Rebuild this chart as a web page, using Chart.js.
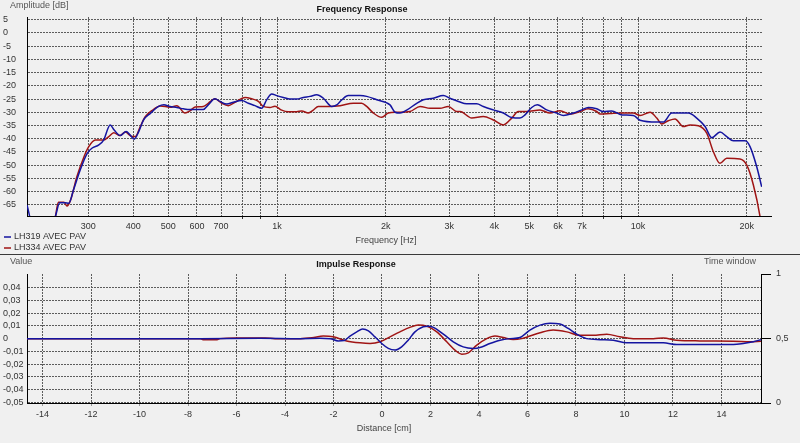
<!DOCTYPE html>
<html>
<head>
<meta charset="utf-8">
<script src="https://cdn.jsdelivr.net/npm/chart.js@4.4.0/dist/chart.umd.min.js"></script>
<style>
  body { margin: 0; background: #f0f0f0; width: 800px; height: 443px; overflow: hidden; position: relative; }
  canvas { position: absolute; left: 0; }
  #freqChart { top: 0; }
  #impChart { top: 255px; }
  #sep { position: absolute; left: 0; top: 254px; width: 800px; height: 1px; background: #3a3a3a; }
</style>
</head>
<body>
<canvas id="freqChart" width="800" height="254"></canvas>
<div id="sep"></div>
<canvas id="impChart" width="800" height="188"></canvas>
<script>
// series names
const series = ['LH319 AVEC PAV', 'LH334 AVEC PAV'];

// frequency response, LH319 (Hz / dB)
const lh319Freq = [203, 210, 235, 243, 250, 259, 265, 273, 285, 298, 307, 321, 331, 345, 354, 368, 382, 392, 402, 414, 427, 446, 470, 486, 505, 528, 550, 574, 599, 625, 645, 673, 695, 726, 757, 799, 833, 869, 907, 936, 967, 998, 1041, 1086, 1134, 1183, 1234, 1288, 1344, 1418, 1464, 1511, 1576, 1698, 1772, 1889, 2056, 2123, 2191, 2287, 2438, 2543, 2710, 2888, 3015, 3179, 3354, 3574, 3728, 3974, 4236, 4469, 4711, 4864, 5076, 5261, 5585, 5953, 6210, 6619, 6982, 7283, 7684, 8015, 8455, 9013, 9705, 10130, 11270, 11750, 12400, 13790, 14540, 15340, 16010, 16870, 17610, 18370, 19790, 20430, 21320, 22010];
const lh319Db = [-65, -72, -72, -69.5, -64.2, -64.2, -64.4, -59.4, -51.8, -45.5, -43.6, -42.3, -40.5, -34.8, -36.7, -38.8, -37.3, -38.6, -40.2, -37.3, -32.9, -30.4, -27.8, -27.2, -27.8, -28.2, -28.7, -29, -29, -29, -27.2, -24.9, -25.9, -26.9, -26.2, -25.6, -26.6, -27.5, -28.5, -25.3, -23.1, -23.7, -24.4, -25, -25, -24.4, -24, -23.4, -24.7, -27.8, -27.2, -25.3, -23.7, -23.7, -24, -25.3, -27.2, -30, -30.3, -29.2, -26.6, -25.3, -24.7, -23.7, -24.7, -25.9, -26.8, -26.8, -27.8, -29.1, -30.3, -32, -32.2, -31, -28.2, -27.2, -29.1, -30.3, -31.2, -30.3, -29.1, -28.2, -28.7, -29.7, -29.5, -31, -31.2, -33, -33.7, -33.7, -30.3, -30.3, -32.2, -35.4, -39.6, -37.5, -39.2, -40.8, -40.8, -43, -50.6, -58.2];

// frequency response, LH334
const lh334Freq = [243, 248, 257, 262, 268, 279, 292, 301, 314, 331, 342, 353, 367, 380, 397, 405, 418, 432, 450, 475, 506, 528, 556, 574, 593, 625, 645, 673, 703, 733, 765, 816, 851, 888, 916, 956, 987, 1030, 1075, 1134, 1171, 1221, 1260, 1301, 1402, 1495, 1627, 1716, 1772, 1849, 1950, 2034, 2146, 2335, 2490, 2654, 2828, 2982, 3147, 3214, 3462, 3728, 3974, 4236, 4469, 4660, 4917, 5352, 5705, 6080, 6480, 6907, 7283, 7684, 7849, 8366, 8917, 9705, 10130, 10800, 11270, 11630, 12130, 12660, 13350, 13930, 14690, 15500, 16170, 16870, 17610, 19160, 20010, 20870, 21780, 22050];
const lh334Db = [-70, -64, -64, -65.4, -63.2, -54.4, -46.8, -43, -40.5, -40.5, -39.2, -37.7, -38.8, -37.5, -39.2, -39.2, -35.4, -31.6, -29.4, -27.6, -28.1, -27.5, -30.3, -29.5, -28, -27.8, -26.6, -24.9, -26.6, -27.5, -26.2, -24.4, -24.9, -25.9, -27.8, -28.2, -27.7, -29.2, -29.8, -29.8, -29.5, -30.3, -29.2, -27.8, -27.8, -27.5, -26.6, -26.6, -27.8, -30.3, -31.9, -30.3, -30, -29.7, -27.8, -28.5, -28.5, -27.8, -29.7, -29.7, -32.2, -31.6, -32.9, -34.8, -32.2, -29.7, -29.7, -29.1, -30.3, -29.4, -30.7, -29.7, -28.7, -29.7, -30.7, -30.5, -30.3, -30.3, -31.2, -30, -32.2, -34.4, -33.2, -32.5, -35.4, -34.8, -35.1, -37.9, -44.9, -49.3, -47.4, -47.7, -50, -57.5, -69.5, -75];

// impulse response (cm / value)
const lh319Cm = [-14.64, -7.5, -5.03, -3.38, -2.56, -2.14, -1.81, -1.57, -1.32, -1.04, -0.8, -0.56, -0.29, -0.01, 0.26, 0.54, 0.81, 1.08, 1.36, 1.7, 1.91, 2.12, 2.53, 2.94, 3.35, 3.76, 4.11, 4.45, 4.87, 5.28, 5.69, 6.1, 6.52, 6.93, 7.34, 7.68, 8.03, 8.44, 8.99, 9.54, 10.09, 10.92, 11.6, 12.15, 13.11, 14.49, 14.9, 15.31, 15.63];
const lh319Val = [0, 0, 0.0003, 0, 0.0002, 0, -0.0018, -0.0015, 0.002, 0.0053, 0.0075, 0.0061, 0.0014, -0.0038, -0.0077, -0.009, -0.0065, -0.0012, 0.0053, 0.0093, 0.0098, 0.0088, 0.0035, -0.0025, -0.0065, -0.0077, -0.0065, -0.0038, -0.0012, 0, 0.0009, 0.0067, 0.0106, 0.012, 0.0114, 0.008, 0.0035, 0, -0.0008, -0.0012, -0.0033, -0.0033, -0.0033, -0.0046, -0.0046, -0.0046, -0.0038, -0.0025, -0.0008];
const lh334Cm = [-14.64, -7.5, -7.38, -6.8, -6.68, -5.98, -4.82, -4.41, -3.38, -2.89, -2.42, -2.01, -1.46, -0.91, -0.49, -0.08, 0.33, 0.74, 1.15, 1.5, 1.84, 2.26, 2.67, 3.01, 3.29, 3.56, 3.91, 4.32, 4.66, 5.0, 5.41, 5.76, 6.1, 6.52, 7.06, 7.62, 8.16, 8.71, 9.27, 9.81, 10.36, 11.19, 11.6, 12.15, 13.11, 14.49, 15.18, 15.63];
const lh334Val = [0, 0, -0.0008, -0.0008, 0, 0.0005, 0.0005, 0, 0, 0.0006, 0.002, 0.0014, -0.0018, -0.0033, -0.0038, -0.0025, 0.0014, 0.0053, 0.0088, 0.0106, 0.0098, 0.0053, -0.0025, -0.009, -0.0122, -0.0112, -0.0051, 0, 0.002, 0.0009, -0.0007, 0, 0.002, 0.0046, 0.0067, 0.0053, 0.0026, 0.0026, 0.0035, 0.0014, 0, 0, 0.0004, -0.0012, -0.0018, -0.002, -0.0025, -0.002];

// ticks
const freqTicks = [300, 400, 500, 600, 700, 800, 900, 1000, 2000, 3000, 4000, 5000, 6000, 7000, 8000, 9000, 10000, 20000];
const freqTickLabels = ['300', '400', '500', '600', '700', '', '', '1k', '2k', '3k', '4k', '5k', '6k', '7k', '', '', '10k', '20k'];
const dbTicks = [5, 0, -5, -10, -15, -20, -25, -30, -35, -40, -45, -50, -55, -60, -65];
const distTicks = [-14, -12, -10, -8, -6, -4, -2, 0, 2, 4, 6, 8, 10, 12, 14];
const valueTicks = [-0.05, -0.04, -0.03, -0.02, -0.01, 0, 0.01, 0.02, 0.03, 0.04];
const valueTickLabels = ['-0,05', '-0,04', '-0,03', '-0,02', '-0,01', '0', '0,01', '0,02', '0,03', '0,04'];
const windowTicks = [0, 0.5, 1];
const windowTickLabels = ['0', '0,5', '1'];

const family = "'Liberation Sans', Arial, sans-serif";
const blue = '#1414a0';
const red = '#a01414';
const gridColor = '#5c5c5c';

function pts(xs, ys) {
    return xs.map((x, i) => ({ x: x, y: ys[i] }));
}

// texts, legend and the axis stub drawn after the chart
function textPlugin(items, legend, axisEnd) {
    return {
        id: 'texts',
        afterDraw(chart) {
            const ctx = chart.ctx;
            const area = chart.chartArea;
            ctx.save();
            if (axisEnd) {
                ctx.strokeStyle = '#000';
                ctx.lineWidth = 1;
                ctx.beginPath();
                ctx.moveTo(area.right, Math.round(area.bottom) + 0.5);
                ctx.lineTo(axisEnd, Math.round(area.bottom) + 0.5);
                ctx.stroke();
            }
            items.forEach(t => {
                ctx.font = (t.bold ? 'bold ' : '') + '9px ' + family;
                ctx.fillStyle = t.color || '#333';
                ctx.textAlign = t.align || 'left';
                ctx.textBaseline = 'middle';
                ctx.fillText(t.text, t.x, t.y);
            });
            if (legend) {
                chart.data.datasets.forEach((ds, i) => {
                    const y = 237 + i * 11;
                    ctx.strokeStyle = ds.borderColor;
                    ctx.lineWidth = 1.5;
                    ctx.beginPath();
                    ctx.moveTo(4, y);
                    ctx.lineTo(11, y);
                    ctx.stroke();
                    ctx.font = '9px ' + family;
                    ctx.fillStyle = '#333';
                    ctx.textAlign = 'left';
                    ctx.fillText(ds.label, 14, y);
                });
            }
            ctx.restore();
        }
    };
}

const tickFont = { size: 9, family: family };

new Chart(document.getElementById('freqChart'), {
    type: 'line',
    data: {
        datasets: [
            { label: series[0], data: pts(lh319Freq, lh319Db), borderColor: blue },
            { label: series[1], data: pts(lh334Freq, lh334Db), borderColor: red }
        ]
    },
    options: {
        responsive: false,
        animation: false,
        devicePixelRatio: 1,
        layout: { padding: { left: 3, right: 38, top: 17, bottom: 0 } },
        plugins: { legend: { display: false }, tooltip: { enabled: false } },
        elements: { point: { radius: 0 }, line: { borderWidth: 1.5, cubicInterpolationMode: 'monotone' } },
        scales: {
            x: {
                type: 'logarithmic',
                min: 203,
                max: 22050,
                afterBuildTicks: s => { s.ticks = freqTicks.map(v => ({ value: v })); },
                afterFit: s => { s.height = 38; },
                ticks: { autoSkip: false, maxRotation: 0, padding: 2, color: '#333', font: tickFont,
                    callback: (v, i) => freqTickLabels[i] },
                grid: { color: gridColor, tickLength: 3,
                    tickColor: c => freqTickLabels[c.index] ? 'rgba(0,0,0,0)' : '#333' },
                border: { color: '#000', dash: [2, 1] }
            },
            y: {
                min: -69.2,
                max: 6,
                afterBuildTicks: s => { s.ticks = dbTicks.map(v => ({ value: v })); },
                afterFit: s => { s.width = 24; },
                ticks: { crossAlign: 'far', padding: 0, color: '#333', font: tickFont },
                grid: { color: gridColor, drawTicks: false },
                border: { color: '#000', dash: [2, 1] }
            }
        }
    },
    plugins: [textPlugin([
        { text: 'Amplitude [dB]', x: 10, y: 6, color: '#555' },
        { text: 'Frequency Response', x: 362, y: 10, align: 'center', bold: true, color: '#111' },
        { text: 'Frequency [Hz]', x: 386, y: 241, align: 'center', color: '#444' }
    ], true, 772)]
});

new Chart(document.getElementById('impChart'), {
    type: 'line',
    data: {
        datasets: [
            { label: series[0], data: pts(lh319Cm, lh319Val), borderColor: blue },
            { label: series[1], data: pts(lh334Cm, lh334Val), borderColor: red }
        ]
    },
    options: {
        responsive: false,
        animation: false,
        devicePixelRatio: 1,
        layout: { padding: { left: 3, right: 0, top: 19, bottom: 0 } },
        plugins: { legend: { display: false }, tooltip: { enabled: false } },
        elements: { point: { radius: 0 }, line: { borderWidth: 1.5, cubicInterpolationMode: 'monotone' } },
        scales: {
            x: {
                type: 'linear',
                min: -14.64,
                max: 15.63,
                afterBuildTicks: s => { s.ticks = distTicks.map(v => ({ value: v })); },
                afterFit: s => { s.height = 40; },
                ticks: { autoSkip: false, maxRotation: 0, padding: 3, color: '#333', font: tickFont },
                grid: { color: gridColor, tickLength: 3, tickColor: '#999' },
                border: { color: '#000', dash: [2, 1] }
            },
            y: {
                position: 'left',
                min: -0.0505,
                max: 0.0507,
                afterBuildTicks: s => { s.ticks = valueTicks.map(v => ({ value: v })); },
                afterFit: s => { s.width = 24; },
                ticks: { crossAlign: 'far', padding: 0, color: '#333', font: tickFont,
                    callback: (v, i) => valueTickLabels[i] },
                grid: { color: gridColor, drawTicks: false },
                border: { color: '#000', dash: [2, 1] }
            },
            y2: {
                position: 'right',
                min: 0,
                max: 1,
                afterBuildTicks: s => { s.ticks = windowTicks.map(v => ({ value: v })); },
                afterFit: s => { s.width = 39; },
                ticks: { padding: 5, color: '#333', font: tickFont,
                    callback: (v, i) => windowTickLabels[i] },
                grid: { drawOnChartArea: false, tickLength: 10, tickColor: '#000' },
                border: { color: '#000' }
            }
        }
    },
    plugins: [textPlugin([
        { text: 'Value', x: 10, y: 7, color: '#555' },
        { text: 'Impulse Response', x: 356, y: 10, align: 'center', bold: true, color: '#111' },
        { text: 'Time window', x: 730, y: 7, align: 'center', color: '#555' },
        { text: 'Distance [cm]', x: 384, y: 174, align: 'center', color: '#444' }
    ], false, 0)]
});
</script>
</body>
</html>
